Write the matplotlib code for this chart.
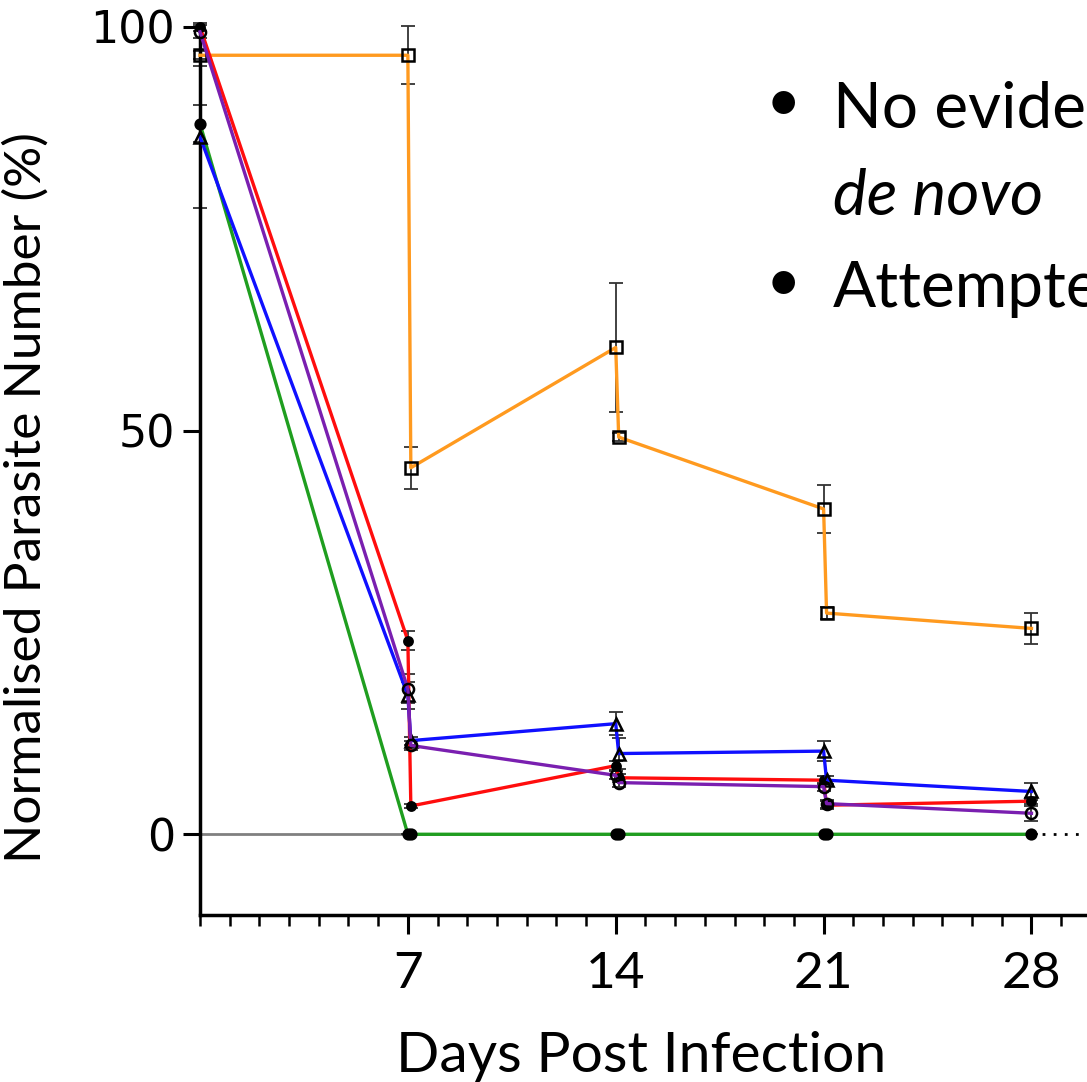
import matplotlib
matplotlib.use('Agg')
import matplotlib.pyplot as plt
import numpy as np

# sampling days (second point at each timepoint = after re-treatment)
days = [0, 7, 7.1, 14, 14.1, 21, 21.1, 28]

orange = [96.5, 96.5, 45.4, 60.3, 49.2, 40.3, 27.4, 25.5]
orange_err = [0.5, 3.6, 2.6, 8.0, 0.5, 3.0, 0.7, 1.9]
red = [100.0, 24.0, 3.5, 8.5, 7.0, 6.7, 3.6, 4.1]
red_err = [0.5, 1.2, 0.3, 0.6, 0.5, 0.5, 0.5, 0.4]
blue = [86.4, 17.2, 11.6, 13.7, 10.0, 10.3, 6.7, 5.3]
blue_err = [8.8, 1.7, 0.5, 1.4, 1.9, 1.2, 0.5, 1.0]
purple = [99.4, 18.0, 11.0, 7.3, 6.4, 5.9, 3.8, 2.6]
purple_err = [0.8, 1.8, 0.5, 0.5, 0.5, 0.5, 0.5, 0.9]
green = [88.0, 0, 0, 0, 0, 0, 0, 0]
green_err = [2.3, 0, 0, 0, 0, 0, 0, 0]

xticks = [7, 14, 21, 28]
yticks = [0, 50, 100]

fig = plt.figure(figsize=(10.87, 10.82), dpi=100)
ax = fig.add_axes([200/1087, 167/1082, 1 - 200/1087, 888/1082])

ax.plot([0, 28], [0, 0], color='grey', lw=2, zorder=1)
ax.plot([28, 30], [0, 0], color='black', lw=2, ls=(0, (1, 3)), zorder=1)

series = [
    (green, green_err, '#1f9e1f', 'o', 'black', 7),
    (orange, orange_err, '#ff9a1f', 's', 'none', 9),
    (red, red_err, '#ff0d0d', 'o', 'black', 6),
    (blue, blue_err, '#1010ff', '^', 'none', 8),
    (purple, purple_err, '#7a1fb0', 'o', 'none', 8),
]
for y, err, col, mk, mfc, ms in series:
    ax.errorbar(days, y, yerr=err, fmt='none', ecolor='#333333', elinewidth=1.3,
                capsize=5, capthick=1.3, zorder=2, clip_on=False)
    ax.plot(days, y, color=col, lw=2.4, marker=mk, mfc=mfc, mec='black',
            mew=1.8, ms=ms, zorder=3, clip_on=False)

ax.set_xlim(0, 29.87)
ax.set_ylim(-10, 100)
ax.spines['top'].set_visible(False)
ax.spines['right'].set_visible(False)
ax.spines['left'].set_linewidth(2.5)
ax.spines['bottom'].set_linewidth(2.5)

ax.set_xticks(xticks)
ax.set_xticks(np.arange(0, 30), minor=True)
ax.set_yticks(yticks)
ax.tick_params(axis='x', which='major', length=14, width=2.2, pad=12,
               labelsize=37, direction='out')
ax.tick_params(axis='x', which='minor', length=8, width=1.8)
ax.tick_params(axis='y', length=12, width=2.2, labelsize=32, pad=6)
for lab in ax.get_xticklabels():
    lab.set_fontfamily('Lato')
for lab in ax.get_yticklabels():
    lab.set_fontfamily('DejaVu Sans')

ax.set_xlabel('Days Post Infection', fontsize=41, family='Lato')
ax.xaxis.set_label_coords(0.497, -0.131)
ax.set_ylabel('Normalised Parasite Number (%)', fontsize=37, family='Lato')
ax.yaxis.set_label_coords(-0.17, 0.47)

# bullet text from the slide (cut off at the right edge)
def px(x, y):
    return x / 1087, 1 - y / 1082

fig.text(*px(783, 103), '\u2022', fontsize=44, family='Lato', ha='center', va='center')
fig.text(*px(833, 128), 'No evidence of', fontsize=46, family='Lato', va='baseline')
fig.text(*px(833, 215), 'de novo', fontsize=46, family='Lato', style='italic', va='baseline')
fig.text(*px(783, 283), '\u2022', fontsize=44, family='Lato', ha='center', va='center')
fig.text(*px(833, 307), 'Attempted', fontsize=46, family='Lato', va='baseline')

fig.savefig('out.png', dpi=100)
